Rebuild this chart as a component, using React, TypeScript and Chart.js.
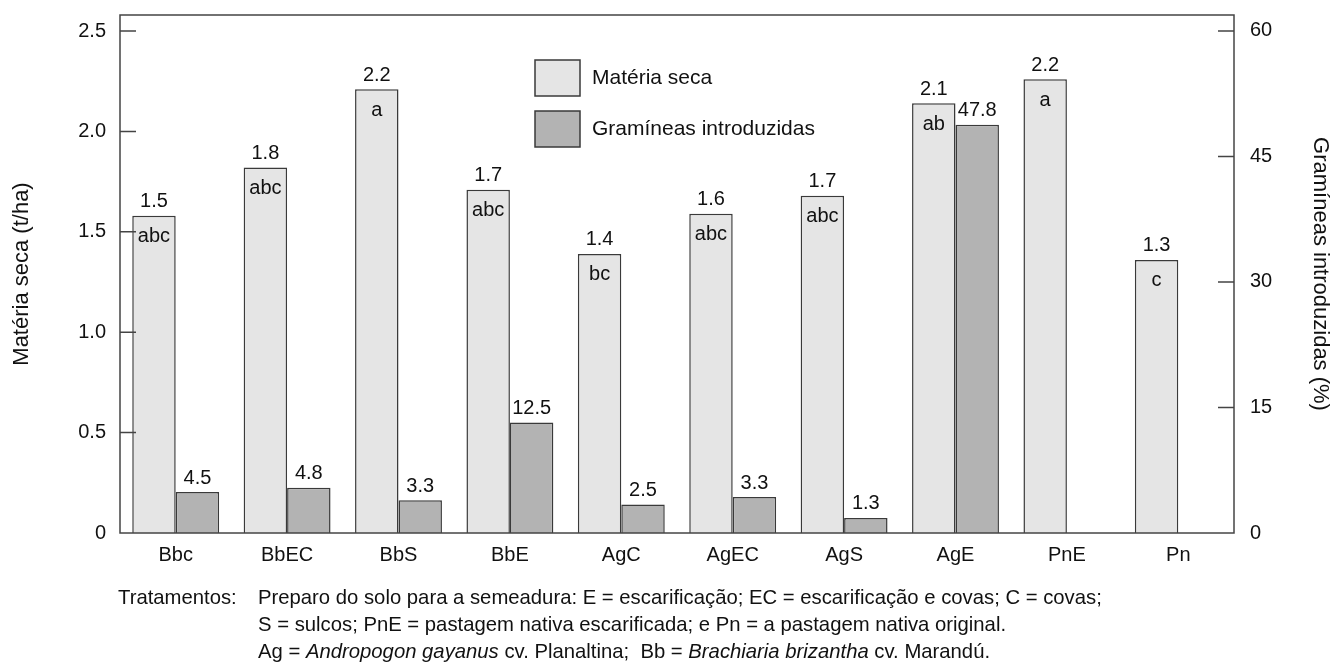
import React, { useEffect, useRef } from "react";
import { Chart, registerables } from "chart.js";

Chart.register(...registerables);

const categories = ["Bbc", "BbEC", "BbS", "BbE", "AgC", "AgEC", "AgS", "AgE", "PnE", "Pn"];
const materiaSeca = [1.58, 1.82, 2.21, 1.71, 1.39, 1.59, 1.68, 2.14, 2.26, 1.36];
const materiaSecaLabels = ["1.5", "1.8", "2.2", "1.7", "1.4", "1.6", "1.7", "2.1", "2.2", "1.3"];
const letters = ["abc", "abc", "a", "abc", "bc", "abc", "abc", "ab", "a", "c"];
const gramineas = [4.9, 5.4, 3.9, 13.2, 3.4, 4.3, 1.8, 48.8, null, null];
const gramineasLabels = ["4.5", "4.8", "3.3", "12.5", "2.5", "3.3", "1.3", "47.8", "", ""];
const leftTicks = [0, 0.5, 1.0, 1.5, 2.0, 2.5];
const leftAxisMax = 2.58;
const rightTicks = [0, 15, 30, 45, 60];
const rightAxisMax = 61.9;
const seriesNames = ["Matéria seca", "Gramíneas introduzidas"];
const leftTitle = "Matéria seca (t/ha)";
const rightTitle = "Gramíneas introduzidas (%)";
const footnoteLines: { x: number; parts: [string, boolean][] }[] = [
  { x: 118, parts: [["Tratamentos:", false]] },
  { x: 258, parts: [["Preparo do solo para a semeadura: E = escarificação; EC = escarificação e covas; C = covas;", false]] },
  { x: 258, parts: [["S = sulcos; PnE = pastagem nativa escarificada; e Pn = a pastagem nativa original.", false]] },
  {
    x: 258,
    parts: [
      ["Ag = ", false],
      ["Andropogon gayanus", true],
      [" cv. Planaltina;  Bb = ", false],
      ["Brachiaria brizantha", true],
      [" cv. Marandú.", false],
    ],
  },
];

const FONT = "'Liberation Sans', Arial, sans-serif";
const LIGHT = "#e5e5e5";
const DARK = "#b3b3b3";
const LINE = "#3a3a3a";

const framePlugin = {
  id: "frameTicks",
  afterDatasetsDraw(chart: any) {
    const { ctx, chartArea } = chart;
    const { left, right, top, bottom } = chartArea;
    ctx.save();
    ctx.strokeStyle = "#444";
    ctx.lineWidth = 1.5;
    ctx.strokeRect(left, top, right - left, bottom - top);
    const yl = chart.scales.y;
    const yr = chart.scales.y1;
    ctx.beginPath();
    yl.ticks.forEach((t: any) => {
      if (t.value === 0) return;
      const py = yl.getPixelForValue(t.value);
      ctx.moveTo(left, py);
      ctx.lineTo(left + 16, py);
    });
    yr.ticks.forEach((t: any) => {
      if (t.value === 0) return;
      const py = yr.getPixelForValue(t.value);
      ctx.moveTo(right, py);
      ctx.lineTo(right - 16, py);
    });
    ctx.stroke();

    // value labels
    ctx.fillStyle = "#111";
    ctx.font = `20px ${FONT}`;
    ctx.textAlign = "center";
    ctx.textBaseline = "middle";
    const m0 = chart.getDatasetMeta(0);
    const m1 = chart.getDatasetMeta(1);
    m0.data.forEach((bar: any, i: number) => {
      ctx.fillText(materiaSecaLabels[i], bar.x, bar.y - 14);
      ctx.fillText(letters[i], bar.x, bar.y + 21);
    });
    m1.data.forEach((bar: any, i: number) => {
      if (gramineas[i] == null) return;
      ctx.fillText(gramineasLabels[i], bar.x, bar.y - 14);
    });

    // legend
    const lx = 535;
    const boxes = [
      { y: 60, c: LIGHT, t: seriesNames[0] },
      { y: 111, c: DARK, t: seriesNames[1] },
    ];
    boxes.forEach((b) => {
      ctx.fillStyle = b.c;
      ctx.fillRect(lx, b.y, 45, 36);
      ctx.strokeStyle = LINE;
      ctx.lineWidth = 1.5;
      ctx.strokeRect(lx, b.y, 45, 36);
      ctx.fillStyle = "#111";
      ctx.textAlign = "left";
      ctx.textBaseline = "middle";
      ctx.font = `21px ${FONT}`;
      ctx.fillText(b.t, lx + 57, b.y + 18);
    });

    // footnote
    const lineY = [598, 625, 652];
    footnoteLines.forEach((ln, i) => {
      let x = ln.x;
      const y = i === 0 ? lineY[0] : lineY[i - 1];
      ln.parts.forEach(([txt, it]) => {
        ctx.font = `${it ? "italic " : ""}20.3px ${FONT}`;
        ctx.textAlign = "left";
        ctx.textBaseline = "middle";
        ctx.fillText(txt, x, y);
        x += ctx.measureText(txt).width;
      });
    });
    ctx.restore();
  },
};

const zeroPad = (s: any) => {
  s.paddingTop = 0;
  s.paddingBottom = 0;
  s.paddingLeft = 0;
  s.paddingRight = 0;
};

export default function App() {
  const ref = useRef<HTMLCanvasElement | null>(null);
  useEffect(() => {
    document.body.style.margin = "0";
    const canvas = ref.current;
    if (!canvas) return;
    const chart = new Chart(canvas, {
      type: "bar",
      data: {
        labels: categories,
        datasets: [
          {
            label: seriesNames[0],
            data: materiaSeca,
            backgroundColor: LIGHT,
            borderColor: LINE,
            borderWidth: 1.5,
            yAxisID: "y",
            categoryPercentage: 0.78,
            barPercentage: 1.0,
          },
          {
            label: seriesNames[1],
            data: gramineas as any,
            backgroundColor: DARK,
            borderColor: LINE,
            borderWidth: 1.5,
            yAxisID: "y1",
            categoryPercentage: 0.78,
            barPercentage: 1.0,
          },
        ],
      },
      options: {
        responsive: false,
        animation: false,
        layout: { padding: { top: 15, left: 0, right: 0, bottom: 0 } },
        plugins: { legend: { display: false }, tooltip: { enabled: false } },
        scales: {
          x: {
            grid: { display: false, drawTicks: false },
            border: { display: false },
            ticks: { color: "#111", font: { family: FONT, size: 20 }, padding: 10 },
            afterFit: (s: any) => {
              s.height = 136;
              zeroPad(s);
            },
          },
          y: {
            position: "left",
            min: 0,
            max: leftAxisMax,
            grid: { display: false, drawTicks: false },
            border: { display: false },
            ticks: {
              color: "#111",
              font: { family: FONT, size: 20 },
              padding: 14,
              callback: (v: any) => (Number(v) === 0 ? "0" : Number(v).toFixed(1)),
            },
            afterBuildTicks: (s: any) => {
              s.ticks = leftTicks.map((v) => ({ value: v }));
            },
            title: {
              display: true,
              text: leftTitle,
              color: "#111",
              font: { family: FONT, size: 22 },
              padding: { top: 9, bottom: 0 },
            },
            afterFit: (s: any) => {
              s.width = 120;
              zeroPad(s);
            },
          },
          y1: {
            position: "right",
            min: 0,
            max: rightAxisMax,
            grid: { display: false, drawTicks: false },
            border: { display: false },
            ticks: {
              color: "#111",
              font: { family: FONT, size: 20 },
              padding: 16,
            },
            afterBuildTicks: (s: any) => {
              s.ticks = rightTicks.map((v) => ({ value: v }));
            },
            title: {
              display: true,
              text: rightTitle,
              color: "#111",
              font: { family: FONT, size: 22 },
              padding: { top: 5, bottom: 0 },
            },
            afterFit: (s: any) => {
              s.width = 104;
              zeroPad(s);
            },
          },
        },
      },
      plugins: [framePlugin],
    });
    return () => chart.destroy();
  }, []);
  return (
    <div style={{ width: 1338, height: 669 }}>
      <canvas ref={ref} width={1338} height={669} />
    </div>
  );
}
